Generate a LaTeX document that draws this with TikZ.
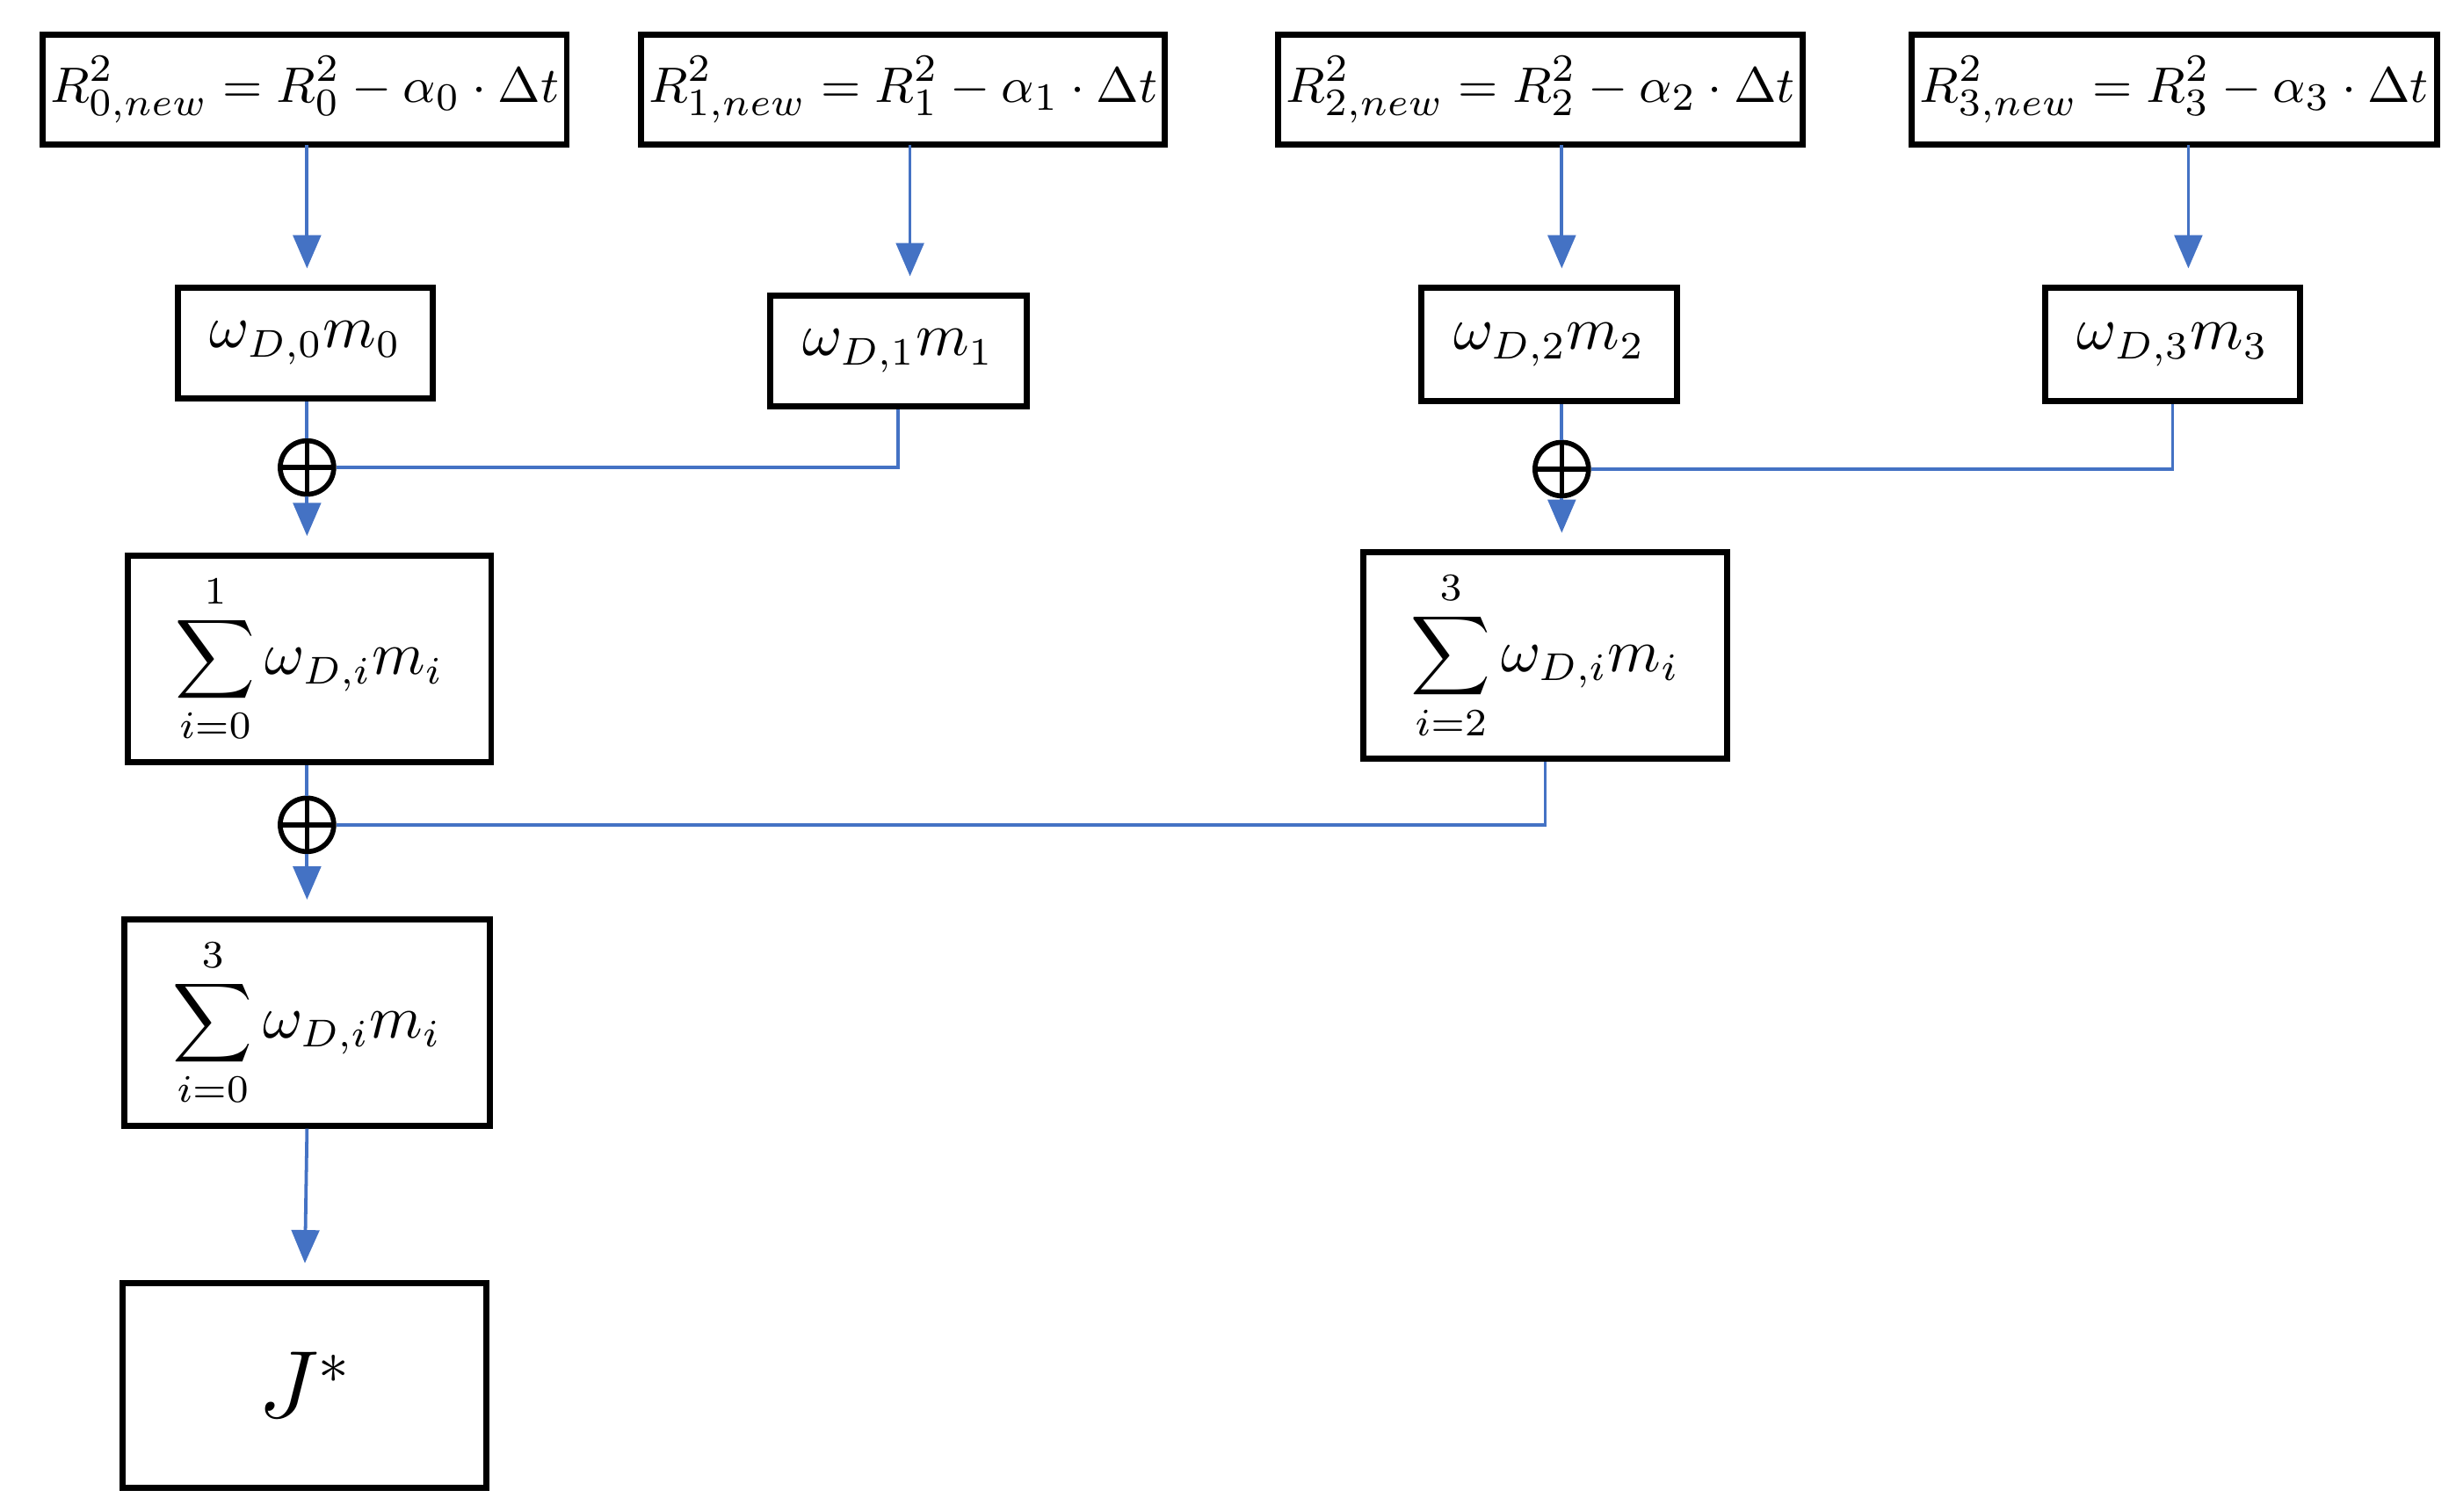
\documentclass[tikz,border=0pt]{standalone}
\usetikzlibrary{arrows.meta}
\begin{document}
\begin{tikzpicture}[x=0.01cm,y=-0.01cm,
 box/.style={draw,line width=1.1pt,inner sep=0pt,font=\fontsize{10.5}{12}\selectfont},
 conn/.style={draw={rgb,255:red,68;green,114;blue,196},line width=0.6pt},
 arr/.style={conn,-{Triangle[width=5pt,length=6pt]},shorten >=3pt},
 plus/.style={circle,draw,line width=0.9pt,minimum size=0.34cm,inner sep=0pt,
   path picture={\draw[line width=0.9pt] (path picture bounding box.north)--(path picture bounding box.south) (path picture bounding box.west)--(path picture bounding box.east);}}]
\useasboundingbox (0,0) rectangle (1560,960);
\newcommand{\bx}[6]{\node[box,minimum width={(#4-#2)*0.01cm},minimum height={(#5-#3)*0.01cm}] (#1) at ({(#2+#4)/2},{(#3+#5)/2}) {#6};}
\newcommand{\tp}[1]{\fontsize{9.3}{11}\selectfont$R^2_{#1,new}=R^2_{#1}-\alpha_{#1}\cdot\Delta t$}
\bx{r0}{27}{22}{360}{92}{\tp{0}}
\bx{r1}{407}{22}{740}{92}{\tp{1}}
\bx{r2}{812}{22}{1145}{92}{\tp{2}}
\bx{r3}{1214}{22}{1548}{92}{\tp{3}}
\bx{w0}{113}{183}{275}{253}{$\omega_{D,0}m_0$}
\bx{w1}{489}{188}{652}{258}{$\omega_{D,1}m_1$}
\bx{w2}{903}{183}{1065}{255}{$\omega_{D,2}m_2$}
\bx{w3}{1299}{183}{1461}{255}{$\omega_{D,3}m_3$}
\bx{s1}{81}{353}{312}{484}{$\displaystyle\sum_{i=0}^{1}\omega_{D,i}m_i$}
\bx{s2}{866}{351}{1097}{482}{$\displaystyle\sum_{i=2}^{3}\omega_{D,i}m_i$}
\bx{s3}{79}{584}{311}{715}{$\displaystyle\sum_{i=0}^{3}\omega_{D,i}m_i$}
\bx{j}{78}{815}{309}{945}{\fontsize{16}{18}\selectfont$J^*$}
\node[plus] (p1) at (195,297) {};
\node[plus] (p2) at (992,298) {};
\node[plus] (p3) at (195,524) {};
\coordinate (a0) at (195,92); \coordinate (a1) at (578,92);
\coordinate (a2) at (992,92); \coordinate (a3) at (1390,92);
\draw[arr] (a0) -- (a0 |- w0.north);
\draw[arr] (a1) -- (a1 |- w1.north);
\draw[arr] (a2) -- (a2 |- w2.north);
\draw[arr] (a3) -- (a3 |- w3.north);
\draw[conn] (w0.south -| p1) -- (p1.north);
\draw[conn] (w2.south -| p2) -- (p2.north);
\draw[conn] (w1.south) |- (p1.east);
\draw[conn] (w3.south) |- (p2.east);
\draw[arr] (p1.south) -- (p1 |- s1.north);
\draw[arr] (p2.south) -- (p2 |- s2.north);
\draw[conn] (s1.south -| p3) -- (p3.north);
\draw[conn] (s2.south) |- (p3.east);
\draw[arr] (p3.south) -- (p3 |- s3.north);
\draw[arr] (s3.south) -- (j.north);
\end{tikzpicture}
\end{document}
